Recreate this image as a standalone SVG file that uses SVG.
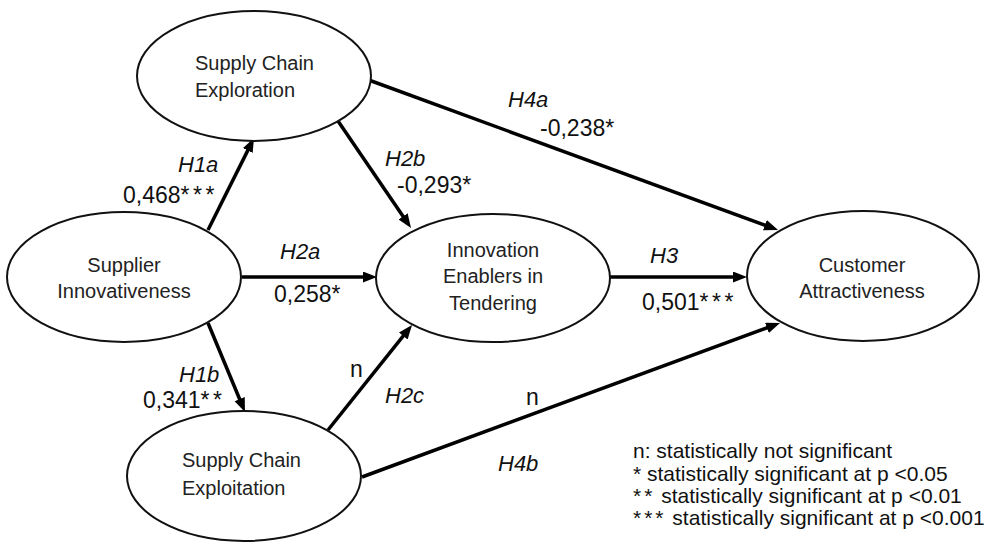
<svg xmlns="http://www.w3.org/2000/svg" width="998" height="549" viewBox="0 0 998 549">
<style>
.node ellipse{fill:#fff;stroke:#111;stroke-width:2}
.nt{font-family:"Liberation Sans",Arial,sans-serif;font-size:20px;fill:#222}
.h{font-family:"Liberation Sans",Arial,sans-serif;font-size:22px;font-style:italic;fill:#111}
.v{font-family:"Liberation Sans",Arial,sans-serif;font-size:23px;fill:#111}
.ast{letter-spacing:3.5px}
.lg{font-family:"Liberation Sans",Arial,sans-serif;font-size:21px;fill:#111}
.last{letter-spacing:3px}
#connectors line{stroke:#000;stroke-width:3.5;marker-end:url(#arr)}
</style>
<defs>
<marker id="arr" markerUnits="userSpaceOnUse" markerWidth="16" markerHeight="12" refX="8" refY="5.5" orient="auto">
<path d="M0,0 L14,5.5 L0,11 z" fill="#000"/>
</marker>
</defs>
<rect width="998" height="549" fill="#fff"/>
<g id="connectors">
<line x1="208" y1="230" x2="251.3" y2="143.4"/>
<line x1="208" y1="323" x2="242.7" y2="406.5"/>
<line x1="242" y1="277" x2="371" y2="277"/>
<line x1="338" y1="121" x2="407.6" y2="223"/>
<line x1="366" y1="79" x2="772.4" y2="227.9"/>
<line x1="610" y1="277" x2="741" y2="277"/>
<line x1="328" y1="430" x2="408.3" y2="329.7"/>
<line x1="362" y1="477" x2="774.4" y2="325.1"/>
</g>
<g id="supply-chain-exploration" class="node">
<ellipse cx="254" cy="76" rx="117" ry="65"/>
<text class="nt" x="195" y="70">Supply Chain</text>
<text class="nt" x="195" y="97">Exploration</text>
</g>
<g id="supplier-innovativeness" class="node">
<ellipse cx="124" cy="277" rx="117" ry="65"/>
<text class="nt" x="124" y="272" text-anchor="middle">Supplier</text>
<text class="nt" x="124" y="298" text-anchor="middle">Innovativeness</text>
</g>
<g id="innovation-enablers" class="node">
<ellipse cx="493" cy="278" rx="117" ry="64"/>
<text class="nt" x="493" y="257" text-anchor="middle">Innovation</text>
<text class="nt" x="493" y="283" text-anchor="middle">Enablers in</text>
<text class="nt" x="493" y="310" text-anchor="middle">Tendering</text>
</g>
<g id="customer-attractiveness" class="node">
<ellipse cx="863" cy="276" rx="116" ry="65"/>
<text class="nt" x="862" y="272" text-anchor="middle">Customer</text>
<text class="nt" x="862" y="298" text-anchor="middle">Attractiveness</text>
</g>
<g id="supply-chain-exploitation" class="node">
<ellipse cx="244" cy="476" rx="117" ry="65"/>
<text class="nt" x="182" y="467">Supply Chain</text>
<text class="nt" x="182" y="495">Exploitation</text>
</g>
<g id="labels">
<text class="h" x="178" y="172">H1a</text>
<text class="v" x="123" y="203">0,468<tspan class="ast">***</tspan></text>
<text class="h" x="179" y="382">H1b</text>
<text class="v" x="143" y="408">0,341<tspan class="ast">**</tspan></text>
<text class="h" x="280" y="259">H2a</text>
<text class="v" x="274" y="302">0,258*</text>
<text class="h" x="385" y="166">H2b</text>
<text class="v" x="397" y="193">-0,293*</text>
<text class="h" x="508" y="107">H4a</text>
<text class="v" x="540" y="136">-0,238*</text>
<text class="h" x="650" y="263">H3</text>
<text class="v" x="642" y="310">0,501<tspan class="ast">***</tspan></text>
<text class="v" x="350" y="377">n</text>
<text class="h" x="385" y="403">H2c</text>
<text class="v" x="526" y="405">n</text>
<text class="h" x="498" y="471">H4b</text>
</g>
<g id="legend">
<text class="lg" x="633" y="458">n: statistically not significant</text>
<text class="lg" x="633" y="481">* statistically significant at p &lt;0.05</text>
<text class="lg" x="633" y="503"><tspan class="last">**</tspan> statistically significant at p &lt;0.01</text>
<text class="lg" x="633" y="525"><tspan class="last">***</tspan> statistically significant at p &lt;0.001</text>
</g>
</svg>
